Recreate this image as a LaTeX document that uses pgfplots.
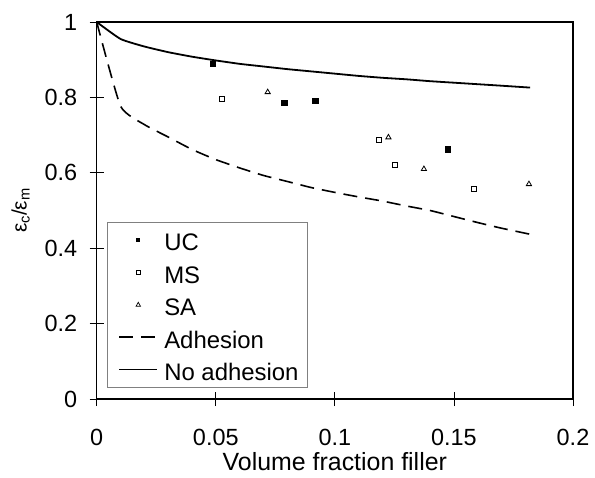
\documentclass[border=0pt]{standalone}
\usepackage{pgfplots}
\pgfplotsset{compat=1.18}
\usepackage{fontspec}
\setmainfont{Liberation Sans}
\begin{document}
\begin{tikzpicture}
\useasboundingbox (-96.7bp,-79bp) rectangle (498.3bp,399bp);
\begin{axis}[
  at={(0,0)}, anchor=south west,
  scale only axis,
  width=476.3bp, height=377bp,
  xmin=0, xmax=0.2, ymin=0, ymax=1,
  xtick={0,0.05,0.1,0.15,0.2},
  ytick={0,0.2,0.4,0.6,0.8,1},
  xticklabels={0,0.05,0.1,0.15,0.2},
  yticklabels={0,0.2,0.4,0.6,0.8,1},
  xtick pos=left, ytick pos=left,
  tick align=center,
  major tick length=14bp,
  axis line style={line width=1.5bp},
  every tick/.style={black, line width=0.8bp},
  ticklabel style={font=\fontsize{23.5}{28}\selectfont},
  xticklabel style={yshift=-20bp},
  yticklabel style={xshift=-9bp},
  xlabel={Volume fraction filler},
  xlabel style={font=\fontsize{25}{30}\selectfont, yshift=0bp},
  ylabel={ε\textsubscript{c}/ε\textsubscript{m}},
  ylabel style={font=\fontsize{21}{25}\selectfont, yshift=8bp},
  legend style={
    at={(0.0216,0.4695)}, anchor=north west,
    draw=gray, line width=0.6bp,
    inner xsep=9bp, inner ysep=4bp,
    font=\fontsize{24}{28}\selectfont,
    row sep=5.8bp, column sep=4bp,
    nodes={inner sep=0bp, text height=24.3bp, text depth=2.4bp},
    cells={anchor=west},
  },
]
\addplot[only marks, mark=square*, mark size=2.8bp, black,
  legend image code/.code={\path[draw=none,fill=none] (-3bp,0bp) -- (41bp,0bp);
    \path[draw=none, fill=black] (17bp,-2bp) rectangle (21bp,2bp);}] coordinates {
  (0.0487,0.889) (0.0787,0.786) (0.0918,0.791) (0.1474,0.662)
};
\addlegendentry{UC}
\addplot[only marks, mark=square, mark size=2.5bp, black, line width=0.8bp,
  legend image code/.code={\path[draw=none,fill=none] (-3bp,0bp) -- (41bp,0bp);
    \draw[black, line width=0.7bp] (17bp,-2bp) rectangle (21bp,2bp);}] coordinates {
  (0.0527,0.797) (0.1184,0.686) (0.1254,0.621) (0.1583,0.556)
};
\addlegendentry{MS}
\addplot[only marks, mark=triangle, mark size=3bp, black, line width=0.8bp,
  legend image code/.code={\path[draw=none,fill=none] (-3bp,0bp) -- (41bp,0bp);
    \draw[black, line width=0.7bp] (16.8bp,-1.6bp) -- (21.2bp,-1.6bp) -- (19bp,2.4bp) -- cycle;}] coordinates {
  (0.0718,0.814) (0.1225,0.694) (0.1374,0.610) (0.1815,0.570)
};
\addlegendentry{SA}
\addplot[black, line width=1.6bp, dash pattern=on 14bp off 8bp, smooth, tension=0.3,
  legend image code/.code={\path[draw=none,fill=none] (-3bp,0bp) -- (41bp,0bp);
    \draw[black, line width=1.6bp, dash pattern=on 14bp off 8bp] (0bp,0bp) -- (38bp,0bp);}] coordinates {
  (0,1) (0.01,0.777) (0.02,0.728) (0.03,0.695) (0.04,0.662) (0.05,0.635)
  (0.06,0.613) (0.07,0.593) (0.08,0.577) (0.09,0.561) (0.10,0.548)
  (0.11,0.536) (0.12,0.525) (0.13,0.512) (0.14,0.500) (0.15,0.484)
  (0.16,0.468) (0.17,0.453) (0.182,0.437)
};
\addlegendentry{Adhesion}
\addplot[black, line width=1.8bp, smooth, tension=0.3,
  legend image code/.code={\path[draw=none,fill=none] (-3bp,0bp) -- (41bp,0bp);
    \draw[black, line width=1.4bp] (0bp,0bp) -- (38bp,0bp);}] coordinates {
  (0,1) (0.01,0.955) (0.02,0.935) (0.03,0.920) (0.04,0.908) (0.05,0.898)
  (0.06,0.889) (0.07,0.882) (0.08,0.875) (0.09,0.869) (0.10,0.863)
  (0.11,0.857) (0.12,0.852) (0.13,0.848) (0.14,0.843) (0.15,0.839)
  (0.16,0.835) (0.17,0.831) (0.182,0.826)
};
\addlegendentry{No adhesion}
\end{axis}
\end{tikzpicture}
\end{document}
